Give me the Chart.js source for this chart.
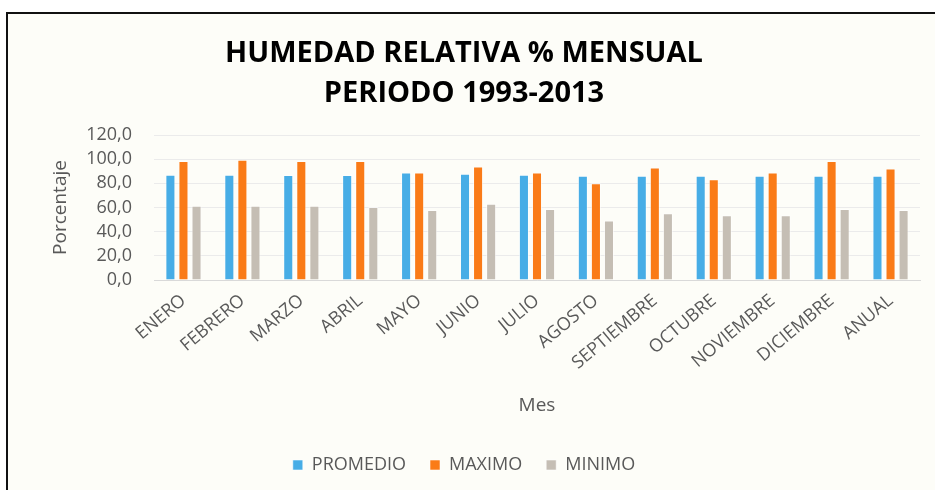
<!DOCTYPE html>
<html>
<head>
<meta charset="utf-8">
<script src="https://cdn.jsdelivr.net/npm/chart.js@4.4.1/dist/chart.umd.min.js"></script>
<style>
    html, body { margin: 0; padding: 0; background: #ffffff; }
    #frame {
        position: absolute;
        left: 6px;
        top: 12px;
        width: 929px;
        height: 478px;
        border-top: 2px solid #111;
        border-left: 2px solid #111;
        background: #fdfdf8;
    }
    #wrap { position: absolute; left: 0; top: 0; width: 929px; height: 478px; }
</style>
</head>
<body>
<div id="frame"><div id="wrap"><canvas id="hChart"></canvas></div></div>
<script>
// monthly relative humidity, 1993-2013
const meses = ['ENERO', 'FEBRERO', 'MARZO', 'ABRIL', 'MAYO', 'JUNIO', 'JULIO',
    'AGOSTO', 'SEPTIEMBRE', 'OCTUBRE', 'NOVIEMBRE', 'DICIEMBRE', 'ANUAL'];
const promedio = [87.1, 87.1, 87.0, 87.0, 89.0, 88.0, 87.1, 86.3, 86.3, 86.3, 86.3, 86.3, 86.3];
const maximo = [98.6, 99.5, 98.6, 98.6, 89.0, 94.0, 89.0, 80.0, 93.1, 83.5, 89.0, 98.6, 92.3];
const minimo = [61.5, 61.5, 61.5, 60.4, 58.0, 63.2, 58.8, 49.2, 55.2, 53.6, 53.6, 58.8, 58.0];
const yTicks = [0, 20, 40, 60, 80, 100, 120];

const font = "'Open Sans', 'Noto Sans', sans-serif";
const grey = '#595959';

function serie(label, data, color) {
    return {
        label: label,
        data: data,
        backgroundColor: color,
        borderColor: 'rgba(255,255,255,0.55)',
        borderWidth: 1,
        categoryPercentage: 0.665,
        barPercentage: 0.77
    };
}

const ctx = document.getElementById('hChart').getContext('2d');
const humChart = new Chart(ctx, {
    type: 'bar',
    data: {
        labels: meses,
        datasets: [
            serie('PROMEDIO', promedio, '#47ade6'),
            serie('MAXIMO', maximo, '#fa7b17'),
            serie('MINIMO', minimo, '#c5beb4')
        ]
    },
    options: {
        responsive: true,
        maintainAspectRatio: false,
        animation: false,
        layout: { padding: { left: 0, right: 17, top: 0, bottom: 8 } },
        plugins: {
            title: {
                display: true,
                text: ['HUMEDAD RELATIVA % MENSUAL', 'PERIODO 1993-2013'],
                color: '#000',
                font: { family: font, size: 29, weight: 'bold', lineHeight: 1.38 },
                padding: { top: 20, bottom: 21 }
            },
            legend: {
                position: 'bottom',
                labels: {
                    color: grey,
                    font: { family: font, size: 18 },
                    boxWidth: 10,
                    boxHeight: 10,
                    padding: 24
                }
            },
            tooltip: { enabled: false }
        },
        scales: {
            x: {
                grid: { display: false },
                border: { color: '#d9d9d9' },
                ticks: {
                    color: grey,
                    font: { family: font, size: 18 },
                    minRotation: 40,
                    maxRotation: 40,
                    autoSkip: false,
                    padding: 2
                },
                title: {
                    display: true,
                    text: 'Mes',
                    color: grey,
                    font: { family: font, size: 19 },
                    padding: { top: 4, bottom: 15 }
                },
                afterFit: function(scale) { scale.height = 152; }
            },
            y: {
                min: 0,
                max: 120,
                afterBuildTicks: function(scale) {
                    scale.ticks = yTicks.map(v => ({ value: v }));
                },
                grid: { color: '#ebebeb', drawTicks: false },
                border: { display: false },
                ticks: {
                    color: grey,
                    font: { family: font, size: 18 },
                    autoSkip: false,
                    padding: 22,
                    callback: v => v.toFixed(1).replace('.', ',')
                },
                title: {
                    display: true,
                    text: 'Porcentaje',
                    color: grey,
                    font: { family: font, size: 19 },
                    padding: { top: 41, bottom: 0 }
                },
                afterFit: function(scale) { scale.width = 146; }
            }
        }
    }
});
</script>
</body>
</html>
